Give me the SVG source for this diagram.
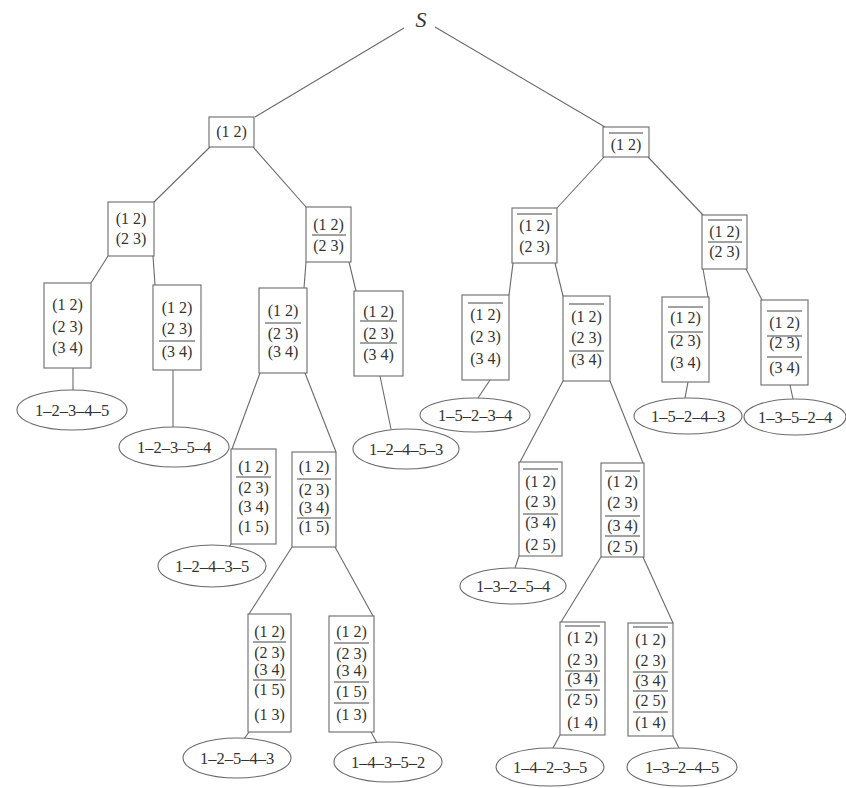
<svg xmlns="http://www.w3.org/2000/svg" width="846" height="788" viewBox="0 0 846 788">
  <style>
    .box { fill: #fff; stroke: #6a6a6a; stroke-width: 1.1; }
    .bar { stroke: #444; stroke-width: 1; }
    .edge { stroke: #6a6a6a; stroke-width: 1.1; fill: none; }
    .leaf { fill: #fff; stroke: #6a6a6a; stroke-width: 1.1; }
    .t { font-family: "Liberation Serif", "DejaVu Serif", serif; font-size: 16px; fill: #333; text-anchor: middle; }
    .lab { font-family: "Liberation Serif", "DejaVu Serif", serif; font-size: 16.5px; fill: #333; text-anchor: middle; }
    .root { font-family: "Liberation Serif", "DejaVu Serif", serif; font-size: 22px; font-style: italic; fill: #333; text-anchor: middle; }
  </style>
  <rect x="0" y="0" width="846" height="788" fill="#fff"/>

  <!-- connectors -->
  <g id="edges" class="edge">
    <line x1="404" y1="28" x2="255" y2="117"/>
    <line x1="435" y1="27" x2="605" y2="127"/>
    <line x1="210" y1="147" x2="154" y2="202"/>
    <line x1="253" y1="147" x2="306" y2="207"/>
    <line x1="108" y1="256" x2="91" y2="283"/>
    <line x1="153" y1="256" x2="155" y2="285"/>
    <line x1="306" y1="262" x2="304" y2="288"/>
    <line x1="349" y1="262" x2="356" y2="291"/>
    <line x1="73" y1="368" x2="73" y2="390"/>
    <line x1="173" y1="370" x2="173" y2="427"/>
    <line x1="380" y1="376" x2="391" y2="429"/>
    <line x1="260" y1="373" x2="232" y2="449"/>
    <line x1="305" y1="373" x2="336" y2="452"/>
    <line x1="231" y1="544" x2="229" y2="547"/>
    <line x1="292" y1="547" x2="249" y2="614"/>
    <line x1="335" y1="547" x2="373" y2="616"/>
    <line x1="249" y1="732" x2="244" y2="739"/>
    <line x1="371" y1="732" x2="377" y2="743"/>
    <line x1="604" y1="157" x2="557" y2="208"/>
    <line x1="648" y1="157" x2="703" y2="215"/>
    <line x1="513" y1="263" x2="509" y2="295"/>
    <line x1="555" y1="263" x2="563" y2="296"/>
    <line x1="703" y1="269" x2="708" y2="297"/>
    <line x1="746" y1="269" x2="762" y2="300"/>
    <line x1="490" y1="380" x2="478" y2="398"/>
    <line x1="688" y1="382" x2="685" y2="398"/>
    <line x1="790" y1="385" x2="793" y2="399"/>
    <line x1="563" y1="381" x2="520" y2="462"/>
    <line x1="610" y1="381" x2="643" y2="463"/>
    <line x1="519" y1="556" x2="515" y2="568"/>
    <line x1="601" y1="557" x2="561" y2="622"/>
    <line x1="643" y1="557" x2="673" y2="623"/>
    <line x1="560" y1="735" x2="553" y2="748"/>
    <line x1="673" y1="736" x2="680" y2="750"/>
  </g>

  <!-- root -->
  <g id="S"><text class="root" x="421" y="27">S</text></g>

  <!-- left half: (1 2) included -->
  <g id="n1">
    <rect class="box" x="209" y="117" width="45" height="30"/>
    <text class="t" x="231.5" y="137">(1 2)</text>
  </g>
  <g id="n2a">
    <rect class="box" x="108" y="202" width="46" height="54"/>
    <text class="t" x="131" y="224">(1 2)</text>
    <text class="t" x="131" y="244">(2 3)</text>
  </g>
  <g id="n2b">
    <rect class="box" x="306" y="207" width="45" height="55"/>
    <text class="t" x="328.5" y="230">(1 2)</text>
    <line class="bar" x1="312" y1="235" x2="346" y2="235"/>
    <text class="t" x="328.5" y="251">(2 3)</text>
  </g>
  <g id="n3a">
    <rect class="box" x="44" y="283" width="47" height="85"/>
    <text class="t" x="67.5" y="310">(1 2)</text>
    <text class="t" x="67.5" y="332">(2 3)</text>
    <text class="t" x="67.5" y="353">(3 4)</text>
  </g>
  <g id="n3b">
    <rect class="box" x="153" y="285" width="48" height="85"/>
    <text class="t" x="177" y="313">(1 2)</text>
    <text class="t" x="177" y="334">(2 3)</text>
    <line class="bar" x1="159" y1="341" x2="195" y2="341"/>
    <text class="t" x="177" y="357">(3 4)</text>
  </g>
  <g id="n3c">
    <rect class="box" x="259" y="288" width="48" height="85"/>
    <text class="t" x="283" y="316">(1 2)</text>
    <line class="bar" x1="265" y1="323" x2="301" y2="323"/>
    <text class="t" x="283" y="339">(2 3)</text>
    <text class="t" x="283" y="357">(3 4)</text>
  </g>
  <g id="n3d">
    <rect class="box" x="354" y="291" width="49" height="85"/>
    <text class="t" x="378.5" y="317">(1 2)</text>
    <line class="bar" x1="360" y1="321" x2="397" y2="321"/>
    <text class="t" x="378.5" y="339">(2 3)</text>
    <line class="bar" x1="360" y1="343" x2="397" y2="343"/>
    <text class="t" x="378.5" y="360">(3 4)</text>
  </g>
  <g id="n4a">
    <rect class="box" x="231" y="449" width="45" height="95"/>
    <text class="t" x="253.5" y="472">(1 2)</text>
    <line class="bar" x1="236" y1="477" x2="271" y2="477"/>
    <text class="t" x="253.5" y="493">(2 3)</text>
    <text class="t" x="253.5" y="512">(3 4)</text>
    <text class="t" x="253.5" y="532">(1 5)</text>
  </g>
  <g id="n4b">
    <rect class="box" x="292" y="452" width="44" height="95"/>
    <text class="t" x="314" y="472">(1 2)</text>
    <line class="bar" x1="297" y1="479" x2="331" y2="479"/>
    <text class="t" x="314" y="495">(2 3)</text>
    <text class="t" x="314" y="513">(3 4)</text>
    <line class="bar" x1="297" y1="518" x2="331" y2="518"/>
    <text class="t" x="314" y="532">(1 5)</text>
  </g>
  <g id="n5a">
    <rect class="box" x="248" y="614" width="43" height="118"/>
    <text class="t" x="269.5" y="637">(1 2)</text>
    <line class="bar" x1="253" y1="642" x2="286" y2="642"/>
    <text class="t" x="269.5" y="658">(2 3)</text>
    <text class="t" x="269.5" y="675">(3 4)</text>
    <line class="bar" x1="253" y1="680" x2="286" y2="680"/>
    <text class="t" x="269.5" y="695">(1 5)</text>
    <text class="t" x="269.5" y="720">(1 3)</text>
  </g>
  <g id="n5b">
    <rect class="box" x="329" y="616" width="45" height="116"/>
    <text class="t" x="351.5" y="637">(1 2)</text>
    <line class="bar" x1="334" y1="643" x2="369" y2="643"/>
    <text class="t" x="351.5" y="659">(2 3)</text>
    <text class="t" x="351.5" y="676">(3 4)</text>
    <line class="bar" x1="334" y1="682" x2="369" y2="682"/>
    <text class="t" x="351.5" y="697">(1 5)</text>
    <line class="bar" x1="334" y1="703" x2="369" y2="703"/>
    <text class="t" x="351.5" y="720">(1 3)</text>
  </g>

  <!-- right half: (1 2) excluded -->
  <g id="m1">
    <rect class="box" x="603" y="127" width="46" height="30"/>
    <line class="bar" x1="609" y1="133" x2="643" y2="133"/>
    <text class="t" x="626" y="150">(1 2)</text>
  </g>
  <g id="m2a">
    <rect class="box" x="512" y="208" width="45" height="55"/>
    <line class="bar" x1="517" y1="214" x2="552" y2="214"/>
    <text class="t" x="534.5" y="231">(1 2)</text>
    <text class="t" x="534.5" y="252">(2 3)</text>
  </g>
  <g id="m2b">
    <rect class="box" x="702" y="215" width="45" height="54"/>
    <line class="bar" x1="708" y1="220" x2="742" y2="220"/>
    <text class="t" x="724.5" y="237">(1 2)</text>
    <line class="bar" x1="708" y1="242" x2="742" y2="242"/>
    <text class="t" x="724.5" y="257">(2 3)</text>
  </g>
  <g id="m3a">
    <rect class="box" x="462" y="295" width="47" height="85"/>
    <line class="bar" x1="468" y1="303" x2="503" y2="303"/>
    <text class="t" x="485.5" y="320">(1 2)</text>
    <text class="t" x="485.5" y="342">(2 3)</text>
    <text class="t" x="485.5" y="364">(3 4)</text>
  </g>
  <g id="m3b">
    <rect class="box" x="563" y="296" width="47" height="85"/>
    <line class="bar" x1="569" y1="304" x2="604" y2="304"/>
    <text class="t" x="586.5" y="322">(1 2)</text>
    <text class="t" x="586.5" y="343">(2 3)</text>
    <line class="bar" x1="569" y1="351" x2="604" y2="351"/>
    <text class="t" x="586.5" y="365">(3 4)</text>
  </g>
  <g id="m3c">
    <rect class="box" x="662" y="297" width="47" height="85"/>
    <line class="bar" x1="668" y1="307" x2="703" y2="307"/>
    <text class="t" x="685.5" y="323">(1 2)</text>
    <line class="bar" x1="668" y1="332" x2="703" y2="332"/>
    <text class="t" x="685.5" y="346">(2 3)</text>
    <text class="t" x="685.5" y="368">(3 4)</text>
  </g>
  <g id="m3d">
    <rect class="box" x="761" y="300" width="47" height="85"/>
    <line class="bar" x1="767" y1="311" x2="802" y2="311"/>
    <text class="t" x="784.5" y="328">(1 2)</text>
    <line class="bar" x1="767" y1="336" x2="802" y2="336"/>
    <text class="t" x="784.5" y="348">(2 3)</text>
    <line class="bar" x1="767" y1="357" x2="802" y2="357"/>
    <text class="t" x="784.5" y="373">(3 4)</text>
  </g>
  <g id="m4a">
    <rect class="box" x="519" y="462" width="43" height="94"/>
    <line class="bar" x1="523" y1="469" x2="558" y2="469"/>
    <text class="t" x="540.5" y="487">(1 2)</text>
    <text class="t" x="540.5" y="507">(2 3)</text>
    <line class="bar" x1="523" y1="514" x2="558" y2="514"/>
    <text class="t" x="540.5" y="528">(3 4)</text>
    <text class="t" x="540.5" y="550">(2 5)</text>
  </g>
  <g id="m4b">
    <rect class="box" x="601" y="463" width="43" height="94"/>
    <line class="bar" x1="605" y1="471" x2="640" y2="471"/>
    <text class="t" x="622.5" y="487">(1 2)</text>
    <text class="t" x="622.5" y="508">(2 3)</text>
    <line class="bar" x1="605" y1="516" x2="640" y2="516"/>
    <text class="t" x="622.5" y="531">(3 4)</text>
    <line class="bar" x1="605" y1="536" x2="640" y2="536"/>
    <text class="t" x="622.5" y="552">(2 5)</text>
  </g>
  <g id="m5a">
    <rect class="box" x="560" y="622" width="45" height="113"/>
    <line class="bar" x1="565" y1="626" x2="600" y2="626"/>
    <text class="t" x="582.5" y="643">(1 2)</text>
    <text class="t" x="582.5" y="665">(2 3)</text>
    <line class="bar" x1="565" y1="671" x2="600" y2="671"/>
    <text class="t" x="582.5" y="684">(3 4)</text>
    <line class="bar" x1="565" y1="690" x2="600" y2="690"/>
    <text class="t" x="582.5" y="705">(2 5)</text>
    <text class="t" x="582.5" y="728">(1 4)</text>
  </g>
  <g id="m5b">
    <rect class="box" x="628" y="623" width="45" height="113"/>
    <line class="bar" x1="633" y1="627" x2="668" y2="627"/>
    <text class="t" x="650.5" y="645">(1 2)</text>
    <text class="t" x="650.5" y="666">(2 3)</text>
    <line class="bar" x1="633" y1="672" x2="668" y2="672"/>
    <text class="t" x="650.5" y="686">(3 4)</text>
    <line class="bar" x1="633" y1="691" x2="668" y2="691"/>
    <text class="t" x="650.5" y="706">(2 5)</text>
    <line class="bar" x1="633" y1="712" x2="668" y2="712"/>
    <text class="t" x="650.5" y="728">(1 4)</text>
  </g>

  <!-- tours (leaves) -->
  <g id="tour-12345"><ellipse class="leaf" cx="72" cy="410" rx="55" ry="20"/><text class="lab" x="72" y="416">1–2–3–4–5</text></g>
  <g id="tour-12354"><ellipse class="leaf" cx="174" cy="447" rx="55" ry="20"/><text class="lab" x="174" y="453">1–2–3–5–4</text></g>
  <g id="tour-12453"><ellipse class="leaf" cx="406" cy="449" rx="53" ry="20"/><text class="lab" x="406" y="455">1–2–4–5–3</text></g>
  <g id="tour-12435"><ellipse class="leaf" cx="212" cy="566" rx="54" ry="21"/><text class="lab" x="212" y="572">1–2–4–3–5</text></g>
  <g id="tour-12543"><ellipse class="leaf" cx="237" cy="758" rx="54" ry="20"/><text class="lab" x="237" y="764">1–2–5–4–3</text></g>
  <g id="tour-14352"><ellipse class="leaf" cx="388" cy="762" rx="54" ry="20"/><text class="lab" x="388" y="768">1–4–3–5–2</text></g>
  <g id="tour-15234"><ellipse class="leaf" cx="475" cy="415" rx="55" ry="17"/><text class="lab" x="475" y="421">1–5–2–3–4</text></g>
  <g id="tour-13254"><ellipse class="leaf" cx="513" cy="586" rx="53" ry="18"/><text class="lab" x="513" y="592">1–3–2–5–4</text></g>
  <g id="tour-15243"><ellipse class="leaf" cx="688" cy="416" rx="54" ry="18"/><text class="lab" x="688" y="422">1–5–2–4–3</text></g>
  <g id="tour-13524"><ellipse class="leaf" cx="795" cy="417" rx="51" ry="18"/><text class="lab" x="795" y="423">1–3–5–2–4</text></g>
  <g id="tour-14235"><ellipse class="leaf" cx="550" cy="767" rx="54" ry="19"/><text class="lab" x="550" y="773">1–4–2–3–5</text></g>
  <g id="tour-13245"><ellipse class="leaf" cx="682" cy="767" rx="55" ry="19"/><text class="lab" x="682" y="773">1–3–2–4–5</text></g>
</svg>
